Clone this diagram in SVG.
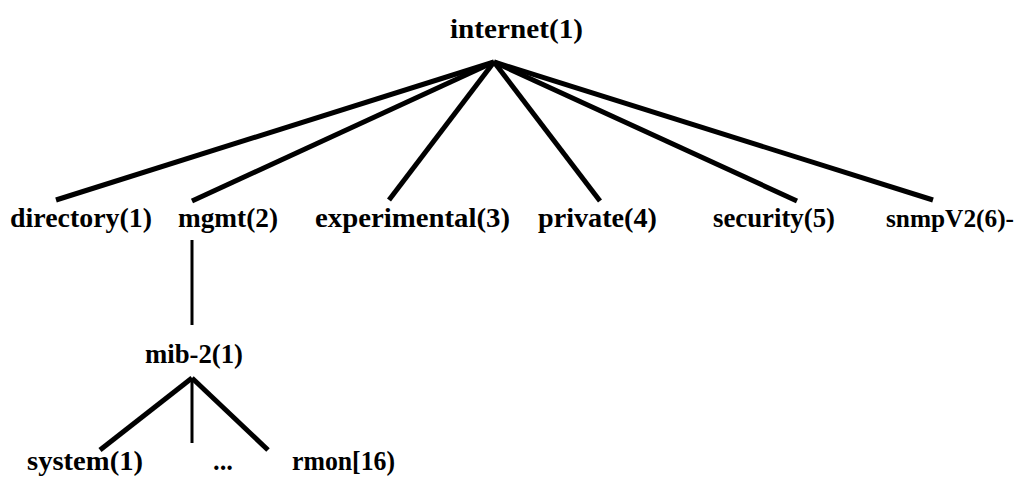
<svg xmlns="http://www.w3.org/2000/svg" width="1023" height="487" viewBox="0 0 1023 487">
<style>
.lbl{font-family:"Liberation Serif","Times New Roman",serif;font-weight:bold;font-size:28px;fill:#000}
.thick{stroke:#000;stroke-width:5;stroke-linecap:butt;fill:none}
.thin{stroke:#000;stroke-width:3;fill:none}
</style>
<rect width="1023" height="487" fill="#fff"/>
<g id="connectors">
<line class="thick" x1="494" y1="62" x2="56" y2="200"/>
<line class="thick" x1="494" y1="62" x2="192" y2="201"/>
<line class="thick" x1="494" y1="62" x2="389" y2="200"/>
<line class="thick" x1="494" y1="62" x2="600" y2="201"/>
<line class="thick" x1="494" y1="62" x2="797" y2="201"/>
<line class="thick" x1="494" y1="62" x2="933" y2="200"/>
<line class="thin" x1="192" y1="240" x2="192" y2="325"/>
<line class="thick" x1="192" y1="378" x2="100" y2="450"/>
<line class="thin" x1="192" y1="378" x2="192" y2="443"/>
<line class="thick" x1="192" y1="378" x2="268" y2="450"/>
</g>
<g id="internet"><text class="lbl" x="450" y="38" textLength="133" lengthAdjust="spacingAndGlyphs">internet(1)</text></g>
<g id="directory"><text class="lbl" x="10" y="227" textLength="142" lengthAdjust="spacingAndGlyphs">directory(1)</text></g>
<g id="mgmt"><text class="lbl" x="178" y="227" textLength="100" lengthAdjust="spacingAndGlyphs">mgmt(2)</text></g>
<g id="experimental"><text class="lbl" x="315" y="227" textLength="195" lengthAdjust="spacingAndGlyphs">experimental(3)</text></g>
<g id="private"><text class="lbl" x="538" y="227" textLength="119" lengthAdjust="spacingAndGlyphs">private(4)</text></g>
<g id="security"><text class="lbl" x="713" y="227" textLength="122" lengthAdjust="spacingAndGlyphs">security(5)</text></g>
<g id="snmpV2"><text class="lbl" x="886" y="227" font-size="26" style="font-size:26px" textLength="128" lengthAdjust="spacingAndGlyphs">snmpV2(6)-</text></g>
<g id="mib2"><text class="lbl" x="145" y="363" textLength="98" lengthAdjust="spacingAndGlyphs">mib-2(1)</text></g>
<g id="system"><text class="lbl" x="27" y="470" textLength="116" lengthAdjust="spacingAndGlyphs">system(1)</text></g>
<g id="ellipsis"><text class="lbl" x="213" y="470" textLength="20" lengthAdjust="spacingAndGlyphs">...</text></g>
<g id="rmon"><text class="lbl" x="292" y="470" textLength="103" lengthAdjust="spacingAndGlyphs">rmon[16)</text></g>
</svg>
